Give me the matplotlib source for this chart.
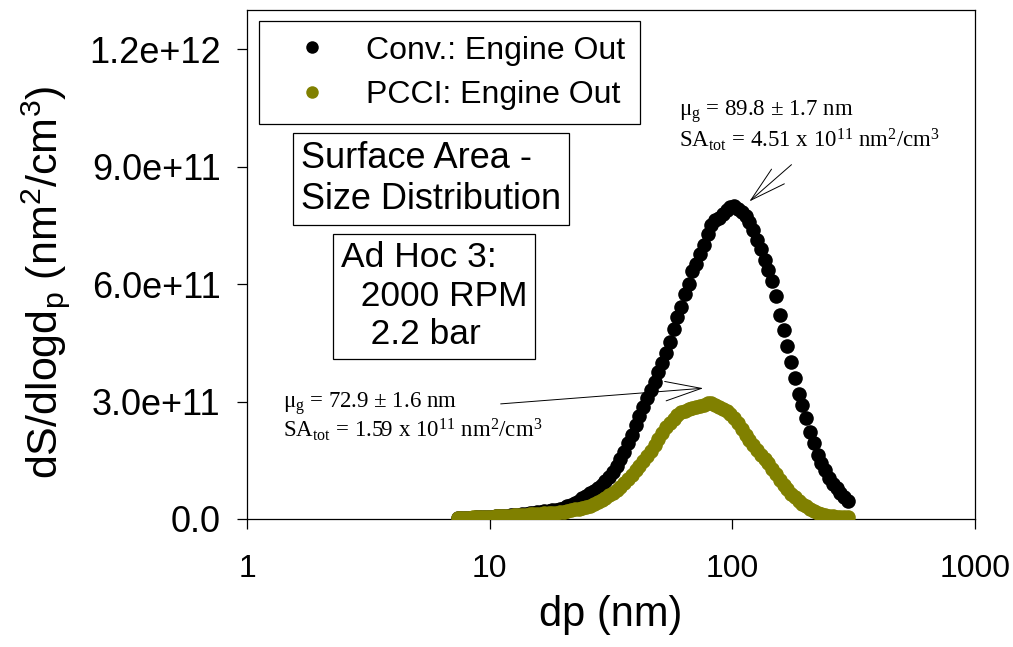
import matplotlib
matplotlib.use("Agg")
import matplotlib.pyplot as plt
from matplotlib.lines import Line2D
from matplotlib.ticker import FixedLocator, FixedFormatter, NullLocator

plt.rcParams["font.family"] = ["Liberation Sans", "DejaVu Sans"]
plt.rcParams["mathtext.default"] = "regular"

# SMPS channel midpoints (nm)
dp = [7.37, 7.64, 7.91, 8.20, 8.51, 8.82, 9.14, 9.47, 9.82, 10.2,
      10.6, 10.9, 11.3, 11.8, 12.2, 12.6, 13.1, 13.6, 14.1, 14.6,
      15.1, 15.7, 16.3, 16.8, 17.5, 18.1, 18.8, 19.5, 20.2, 20.9,
      21.7, 22.5, 23.3, 24.1, 25.0, 25.9, 26.9, 27.9, 28.9, 30.0,
      31.1, 32.2, 33.4, 34.6, 35.9, 37.2, 38.5, 40.0, 41.4, 42.9,
      44.5, 46.1, 47.8, 49.6, 51.4, 53.3, 55.2, 57.3, 59.4, 61.5,
      63.8, 66.1, 68.5, 71.0, 73.7, 76.4, 79.1, 82.0, 85.1, 88.2,
      91.4, 94.7, 98.2, 101.8, 105.5, 109.4, 113.4, 117.6, 121.9, 126.3,
      131.0, 135.8, 140.7, 145.9, 151.2, 156.8, 162.5, 168.5, 174.7, 181.1,
      187.7, 194.6, 201.7, 209.1, 216.7, 224.7, 232.9, 241.4, 250.3, 259.5,
      269.0, 278.8, 289.0, 299.6]

# dS/dlogdp, units of 1e11 nm^2/cm^3
conv_e11 = [0.022, 0.025, 0.028, 0.031, 0.035, 0.039, 0.043, 0.048, 0.053, 0.059,
            0.065, 0.071, 0.078, 0.087, 0.095, 0.103, 0.113, 0.123, 0.134, 0.145,
            0.156, 0.168, 0.180, 0.192, 0.207, 0.222, 0.240, 0.262, 0.287, 0.320,
            0.360, 0.410, 0.465, 0.530, 0.600, 0.660, 0.720, 0.790, 0.870, 0.970,
            1.08, 1.20, 1.35, 1.52, 1.72, 1.93, 2.14, 2.39, 2.62, 2.85,
            3.08, 3.30, 3.51, 3.76, 3.99, 4.25, 4.52, 4.86, 5.16, 5.41,
            5.75, 6.00, 6.33, 6.51, 6.76, 6.99, 7.27, 7.50, 7.63, 7.70,
            7.78, 7.88, 7.96, 7.99, 7.93, 7.83, 7.75, 7.58, 7.37, 7.12,
            6.89, 6.61, 6.36, 6.08, 5.69, 5.21, 4.83, 4.42, 4.02, 3.61,
            3.18, 2.92, 2.57, 2.21, 1.93, 1.63, 1.42, 1.25, 1.04, 0.89,
            0.79, 0.66, 0.56, 0.46]
pcci_e11 = [0.025, 0.029, 0.032, 0.035, 0.039, 0.042, 0.046, 0.050, 0.054, 0.059,
            0.064, 0.068, 0.073, 0.080, 0.086, 0.092, 0.099, 0.106, 0.113, 0.119,
            0.125, 0.131, 0.137, 0.142, 0.148, 0.154, 0.161, 0.169, 0.178, 0.196,
            0.220, 0.247, 0.267, 0.285, 0.308, 0.343, 0.394, 0.440, 0.488, 0.544,
            0.605, 0.670, 0.745, 0.816, 0.915, 1.03, 1.13, 1.25, 1.36, 1.48,
            1.60, 1.74, 1.89, 2.04, 2.20, 2.34, 2.45, 2.55, 2.66, 2.73,
            2.76, 2.80, 2.83, 2.86, 2.89, 2.92, 2.95, 2.95, 2.92, 2.87,
            2.81, 2.75, 2.67, 2.57, 2.45, 2.31, 2.15, 2.01, 1.88, 1.77,
            1.64, 1.54, 1.42, 1.28, 1.14, 1.00, 0.88, 0.76, 0.65, 0.55,
            0.46, 0.38, 0.32, 0.25, 0.20, 0.16, 0.127, 0.102, 0.084, 0.069,
            0.058, 0.051, 0.046, 0.041]
conv = [v * 1e11 for v in conv_e11]
pcci = [v * 1e11 for v in pcci_e11]

series_names = ["Conv.: Engine Out", "PCCI: Engine Out"]
series_colors = ["black", "#808000"]

xticks = [1, 10, 100, 1000]
xtick_labels = ["1", "10", "100", "1000"]
yticks = [0, 3e11, 6e11, 9e11, 1.2e12]
ytick_labels = ["0.0", "3.0e+11", "6.0e+11", "9.0e+11", "1.2e+12"]

fig = plt.figure(figsize=(10.13, 6.47), dpi=100)
ax = fig.add_axes([247 / 1013, 1 - 519 / 647, 728 / 1013, 509 / 647])

ax.plot(dp, conv, "o", color=series_colors[0], ms=10.5, mew=0, zorder=3)
ax.plot(dp, pcci, "o", color=series_colors[1], ms=10.5, mew=0, zorder=4)

ax.set_xscale("log")
ax.set_xlim(1, 1000)
ax.set_ylim(0, 1.3e12)
ax.xaxis.set_major_locator(FixedLocator(xticks))
ax.xaxis.set_major_formatter(FixedFormatter(xtick_labels))
ax.xaxis.set_minor_locator(NullLocator())
ax.yaxis.set_major_locator(FixedLocator(yticks))
ax.yaxis.set_major_formatter(FixedFormatter(ytick_labels))
ax.tick_params(axis="x", direction="out", length=7, width=0.9, labelsize=23, pad=18)
ax.tick_params(axis="y", direction="out", length=7, width=0.9, labelsize=26, pad=12)
for sp in ax.spines.values():
    sp.set_linewidth(0.9)

ax.set_xlabel("dp (nm)", fontsize=30, labelpad=8)
ax.set_ylabel("dS/dlogd$_p$ (nm$^2$/cm$^3$)", fontsize=31)
ax.yaxis.set_label_coords(-0.24, 0.465)

handles = [Line2D([], [], ls="none", marker="o", ms=9, mew=0, color=c) for c in series_colors]
leg = ax.legend(handles, series_names, loc="upper left", bbox_to_anchor=(0.0165, 0.978),
                borderaxespad=0, fontsize=23, fancybox=False, framealpha=1, edgecolor="black",
                borderpad=0.45, handlelength=2.4, handletextpad=0.5, labelspacing=0.45)
leg.get_frame().set_linewidth(0.9)

box = dict(boxstyle="square,pad=0.22", fc="white", ec="black", lw=0.9)
ax.text(0.0742, 0.668, "Surface Area -\nSize Distribution", transform=ax.transAxes,
        fontsize=26, ha="left", va="center", bbox=box)
ax.text(0.129, 0.438, "Ad Hoc 3:\n  2000 RPM\n   2.2 bar", transform=ax.transAxes,
        fontsize=25.5, ha="left", va="center", bbox=box)

serif = ["Liberation Serif", "DejaVu Serif"]
ax.text(60.4, 1.005e12, "\u03bc$_g$ = 89.8 \u00b1 1.7 nm\nSA$_{tot}$ = 4.51 x 10$^{11}$ nm$^2$/cm$^3$",
        family=serif, fontsize=16.5, ha="left", va="center", linespacing=1.1)
ax.text(1.41, 2.62e11, "\u03bc$_g$ = 72.9 \u00b1 1.6 nm\nSA$_{tot}$ = 1.59 x 10$^{11}$ nm$^2$/cm$^3$",
        family=serif, fontsize=16.5, ha="left", va="center", linespacing=0.95)

arrow = dict(arrowstyle="->,head_length=2.6,head_width=0.7", lw=0.7, color="black",
             mutation_scale=10, shrinkA=0, shrinkB=0)
ax.annotate("", xy=(117.5, 8.11e11), xytext=(175.3, 9.05e11), arrowprops=arrow)
ax.annotate("", xy=(75.9, 3.34e11), xytext=(11.1, 2.94e11), arrowprops=arrow)

fig.savefig("out.png", dpi=100)
